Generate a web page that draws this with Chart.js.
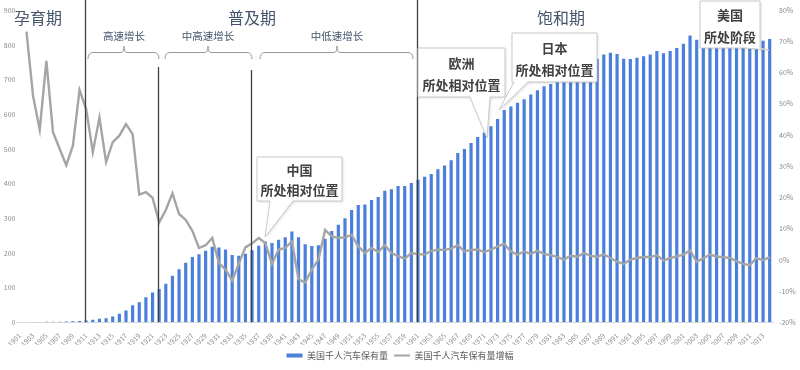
<!DOCTYPE html>
<html>
<head>
<meta charset="utf-8">
<script src="https://cdn.jsdelivr.net/npm/chart.js@4/dist/chart.umd.min.js"></script>
<style>
	html, body { margin: 0; padding: 0; background: #fff; }
	#wrap { width: 800px; height: 370px; position: relative; }
</style>
</head>
<body>
<div id="wrap"><canvas id="chart"></canvas></div>
<script>
// 年份 1901-2014
const years = [];
for (let y = 1901; y <= 2014; y++) years.push(String(y));

// 美国千人汽车保有量（辆/千人）
const carsPerThousand = [
	0.3, 0.5, 0.7, 1.0, 1.3, 1.6, 1.9, 2.2, 2.8, 4.0,
	5.5, 7, 10, 12, 17, 25, 34, 49, 58, 72,
	86, 96, 111, 134, 153, 172, 188, 196, 206, 218,
	216, 210, 194, 192, 198, 208, 221, 233, 229, 238,
	245, 262, 245, 225, 220, 222, 241, 263, 281, 300,
	324, 338, 340, 353, 361, 379, 384, 393, 393, 402,
	411, 420, 428, 441, 452, 467, 488, 500, 517, 534,
	547, 565, 586, 612, 622, 633, 643, 657, 669, 681,
	687, 695, 700, 712, 722, 738, 750, 760, 772, 777,
	774, 760, 759, 763, 767, 772, 782, 776, 782, 791,
	803, 827, 815, 815, 825, 830, 832, 835, 832, 822,
	810, 814, 812, 817,
];

// 美国千人汽车保有量增幅（%）
const growthPct = [
	null, 73.1, 52.5, 41.7, 63.8, 40.9, 35.6, 30.3, 36.6, 54.4,
	48.3, 34.5, 45.6, 31.3, 37.7, 39.8, 43.5, 40.3, 20.9, 21.7,
	19.9, 12.0, 16.0, 21.3, 14.7, 12.8, 9.3, 3.8, 4.7, 7.0,
	-1.0, -3.1, -6.6, -1.2, 4.0, 5.3, 7.0, 5.4, -1.3, 3.3,
	3.8, 5.9, -6.2, -7.3, -3.1, 0.1, 9.6, 7.5, 7.0, 7.2,
	8.0, 4.3, 2.2, 3.8, 2.5, 4.7, 2.2, 1.2, 0.4, 2.2,
	1.9, 1.7, 2.9, 3.3, 3.2, 3.6, 4.7, 2.7, 3.2, 3.3,
	2.5, 3.3, 4.3, 5.1, 2.7, 1.7, 2.7, 1.9, 2.9, 1.9,
	1.5, 0.9, 0.1, 1.3, 1.0, 2.2, 1.3, 1.0, 1.8, 0.6,
	-0.6, -1.3, 0.1, 0.6, 0.9, 0.9, 1.5, -0.2, 0.6, 1.1,
	1.7, 3.0, -0.6, 0.5, 1.7, 1.1, 0.9, 0.6, -0.4, -1.3,
	-1.7, 0.6, -0.1, 0.9,
];

const leftTicks = [0, 900, 100];
const rightTicks = [-20, 80, 10];

const phases = [
	{ text: "孕育期", x: 38 },
	{ text: "普及期", x: 252 },
	{ text: "饱和期", x: 561 },
];
const stages = [
	{ text: "高速增长", from: 88, to: 159, mid: 124 },
	{ text: "中高速增长", from: 165, to: 252, mid: 208 },
	{ text: "中低速增长", from: 260, to: 413, mid: 337 },
];
const dividers = [
	{ year: "1911", top: 0 },
	{ year: "1922", top: 67 },
	{ year: "1936", top: 70 },
	{ year: "1961", top: 0 },
];
const callouts = [
	{ lines: ["中国", "所处相对位置"], box: [257, 157, 342, 201], base: [270, 293], tip: [265, 237] },
	{ lines: ["欧洲", "所处相对位置"], box: [418, 48, 505, 97], base: [470, 490], tip: [487, 138] },
	{ lines: ["日本", "所处相对位置"], box: [512, 33, 597, 82], base: [514, 528], tip: [499, 110] },
	{ lines: ["美国", "所处阶段"], box: [700, 1, 760, 48], base: [745, 760], tip: [769, 50] },
];

const FONT = "'Noto Sans CJK SC', 'Noto Sans', sans-serif";
const BLUE = "#4a7fdb";
const GRAY = "#a5a5a5";

const decorations = {
	id: "decorations",
	afterDraw(chart) {
		const ctx = chart.ctx;
		const xs = chart.scales.x;
		const bottom = chart.chartArea.bottom;
		ctx.save();

		// 分期竖线
		ctx.strokeStyle = "#404040";
		ctx.lineWidth = 1.3;
		for (const d of dividers) {
			const x = Math.round(xs.getPixelForValue(years.indexOf(d.year))) - 0.5;
			ctx.beginPath();
			ctx.moveTo(x, d.top);
			ctx.lineTo(x, bottom);
			ctx.stroke();
		}

		// 阶段标题
		ctx.fillStyle = "#44546a";
		ctx.textAlign = "center";
		ctx.textBaseline = "middle";
		ctx.font = `16px ${FONT}`;
		for (const p of phases) ctx.fillText(p.text, p.x, 18);

		// 增速大括号
		ctx.font = `10.5px ${FONT}`;
		ctx.strokeStyle = "#9a9a9a";
		ctx.lineWidth = 1;
		for (const s of stages) {
			ctx.fillText(s.text, s.mid, 36);
			const y = 52.5;
			ctx.beginPath();
			ctx.moveTo(s.from, 59);
			ctx.quadraticCurveTo(s.from, y, s.from + 5, y);
			ctx.lineTo(s.mid - 3, y);
			ctx.quadraticCurveTo(s.mid, y, s.mid, 46);
			ctx.quadraticCurveTo(s.mid, y, s.mid + 3, y);
			ctx.lineTo(s.to - 5, y);
			ctx.quadraticCurveTo(s.to, y, s.to, 59);
			ctx.stroke();
		}

		// 标注框
		for (const c of callouts) {
			const [x0, y0, x1, y1] = c.box;
			ctx.beginPath();
			ctx.moveTo(x0, y0);
			ctx.lineTo(x1, y0);
			ctx.lineTo(x1, y1);
			ctx.lineTo(c.base[1], y1);
			ctx.lineTo(c.tip[0], c.tip[1]);
			ctx.lineTo(c.base[0], y1);
			ctx.lineTo(x0, y1);
			ctx.closePath();
			ctx.fillStyle = "#ffffff";
			ctx.shadowColor = "rgba(0,0,0,0.15)";
			ctx.shadowBlur = 3;
			ctx.shadowOffsetX = 1;
			ctx.shadowOffsetY = 1;
			ctx.fill();
			ctx.shadowColor = "transparent";
			ctx.strokeStyle = "#c8c8c8";
			ctx.stroke();
			ctx.fillStyle = "#404040";
			ctx.font = `bold 13px ${FONT}`;
			const cx = (x0 + x1) / 2;
			const h = y1 - y0;
			ctx.fillText(c.lines[0], cx, y0 + h * 0.3);
			ctx.fillText(c.lines[1], cx, y0 + h * 0.76);
		}
		ctx.restore();
	},
};

Chart.defaults.font.family = FONT;
Chart.defaults.color = "#8c8c8c";

new Chart(document.getElementById("chart"), {
	type: "bar",
	data: {
		labels: years,
		datasets: [
			{
				label: "美国千人汽车保有量",
				data: carsPerThousand,
				backgroundColor: BLUE,
				barPercentage: 0.48,
				categoryPercentage: 1,
				yAxisID: "y",
				order: 2,
			},
			{
				type: "line",
				label: "美国千人汽车保有量增幅",
				data: growthPct,
				borderColor: GRAY,
				backgroundColor: GRAY,
				borderWidth: 2.4,
				pointRadius: 0,
				tension: 0,
				yAxisID: "y1",
				order: 1,
			},
		],
	},
	options: {
		responsive: true,
		maintainAspectRatio: false,
		animation: false,
		layout: { padding: { top: 9, left: 0, right: 0, bottom: 0 } },
		plugins: {
			tooltip: { enabled: false },
			legend: {
				position: "bottom",
				labels: {
					usePointStyle: true,
					pointStyleWidth: 16,
					boxHeight: 4,
					padding: 6,
					color: "#595959",
					font: { size: 9 },
					sort: (a, b) => a.datasetIndex - b.datasetIndex,
					generateLabels(chart) {
						return Chart.defaults.plugins.legend.labels
							.generateLabels(chart)
							.map((item) => {
								const isBar = item.datasetIndex === 0;
								return {
									...item,
									pointStyle: isBar ? "rect" : "line",
									lineWidth: isBar ? 0 : 2,
									strokeStyle: isBar ? BLUE : GRAY,
									fillStyle: isBar ? BLUE : GRAY,
								};
							});
					},
				},
			},
		},
		scales: {
			x: {
				offset: true,
				grid: { display: false },
				border: { color: "#d9d9d9" },
				ticks: {
					autoSkip: false,
					maxRotation: 45,
					minRotation: 45,
					padding: 1,
					font: { size: 7 },
					callback: (value, index) => (index % 2 === 0 ? years[index] : ""),
				},
				afterFit: (scale) => { scale.height = 22.7; },
			},
			y: {
				position: "left",
				min: leftTicks[0],
				max: leftTicks[1],
				grid: { display: false, drawTicks: false },
				border: { display: false },
				ticks: { stepSize: leftTicks[2], padding: 1, font: { size: 7 } },
				afterFit: (scale) => { scale.width = 16.5; },
			},
			y1: {
				position: "right",
				min: rightTicks[0],
				max: rightTicks[1],
				grid: { display: false, drawTicks: false },
				border: { display: false },
				ticks: {
					stepSize: rightTicks[2],
					padding: 6,
					font: { size: 7 },
					callback: (value) => `${value}%`,
				},
				afterFit: (scale) => { scale.width = 27; },
			},
		},
	},
	plugins: [decorations],
});
</script>
</body>
</html>
